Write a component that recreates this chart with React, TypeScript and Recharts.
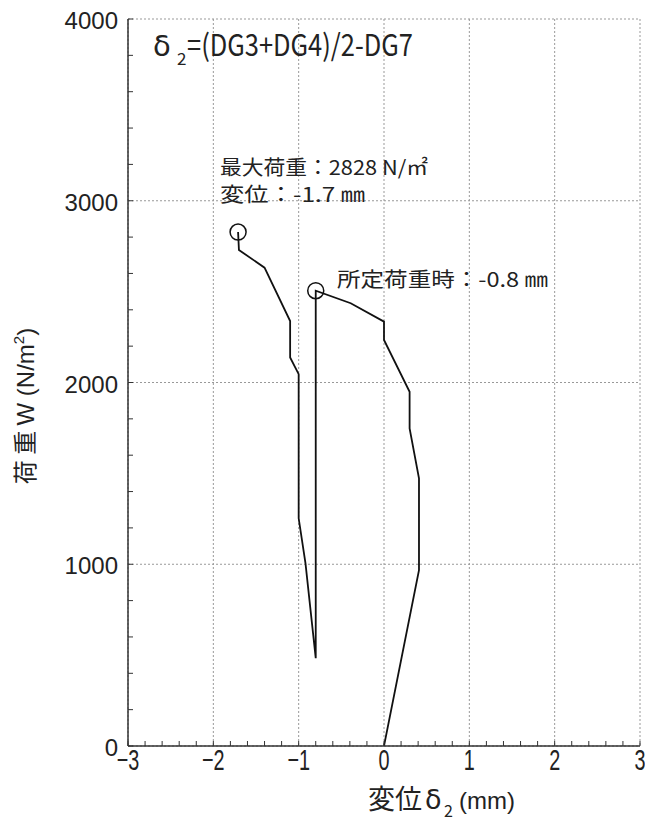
import React from 'react';
import { ComposedChart, Line, XAxis, YAxis, CartesianGrid, ReferenceDot } from 'recharts';

// 変位 δ2 (mm) along the recorded path
const dispX = [0, 0.41, 0.41, 0.30, 0.30, 0, 0, -0.39, -0.80, -0.80, -0.92, -1.00, -1.00, -1.10, -1.10, -1.40, -1.70, -1.71];
// 荷重 W (N/m2)
const loadW = [0, 968, 1473, 1748, 1949, 2234, 2335, 2436, 2505, 483, 1005, 1253, 2046, 2138, 2338, 2632, 2729, 2828];

// open-circle markers (max load, specified load)
const markerX = [-1.71, -0.80];
const markerW = [2828, 2505];

const xMajorTicks = [-3, -2, -1, 0, 1, 2, 3];
const xTickLabels = ['−3', '−2', '−1', '0', '1', '2', '3'];
const xMinorTicks = [-3, -2.8, -2.6, -2.4, -2.2, -2, -1.8, -1.6, -1.4, -1.2, -1, -0.8, -0.6, -0.4, -0.2, 0, 0.2, 0.4, 0.6, 0.8, 1, 1.2, 1.4, 1.6, 1.8, 2, 2.2, 2.4, 2.6, 2.8, 3];
const yMajorTicks = [0, 1000, 2000, 3000, 4000];
const yTickLabels = ['0', '1000', '2000', '3000', '4000'];
const yMinorTicks = [0, 200, 400, 600, 800, 1000, 1200, 1400, 1600, 1800, 2000, 2200, 2400, 2600, 2800, 3000, 3200, 3400, 3600, 3800, 4000];

const data = dispX.map((x, i) => ({ x, y: loadW[i] }));

const FRAME = '#333';
const JP = '"Noto Sans CJK JP", sans-serif';
const LAT = '"Liberation Sans", Arial, sans-serif';
const GRK = '"DejaVu Sans", sans-serif';

const XTick = (props: any) => {
  const { x, y, payload } = props;
  const i = xMajorTicks.indexOf(payload.value);
  if (i < 0) return <g />;
  return (
    <g transform={`translate(${x},${y})`}>
      <text transform="scale(0.66,1)" x={0} y={29} textAnchor="middle" fontSize={30} fontFamily={LAT} fill="#222">
        {xTickLabels[i]}
      </text>
    </g>
  );
};

const YTick = (props: any) => {
  const { x, y, payload } = props;
  const i = yMajorTicks.indexOf(payload.value);
  if (i < 0) return <g />;
  return (
    <text x={x - 15} y={y + 10} textAnchor="end" fontSize={24} fontFamily={LAT} fill="#222">
      {yTickLabels[i]}
    </text>
  );
};

const NoTick = () => <g />;

export default function App() {
  return (
    <div style={{ position: 'absolute', left: 0, top: 0, width: 645, height: 837, background: '#fff' }}>
      <ComposedChart width={645} height={837} data={data} margin={{ top: 19, right: 5, bottom: 51, left: 0 }}>
        <CartesianGrid
          stroke="#999"
          strokeDasharray="2 2"
          strokeWidth={1}
          verticalValues={xMajorTicks}
          horizontalValues={yMajorTicks}
        />
        <XAxis
          dataKey="x"
          type="number"
          domain={[-3, 3]}
          ticks={xMinorTicks}
          interval={0}
          allowDataOverflow
          height={40}
          tickSize={-5}
          tickMargin={0}
          tickLine={{ stroke: FRAME, strokeWidth: 1 }}
          axisLine={{ stroke: FRAME, strokeWidth: 1.5 }}
          tick={<XTick />}
        />
        <XAxis
          xAxisId="top"
          type="number"
          domain={[-3, 3]}
          ticks={xMinorTicks}
          interval={0}
          allowDataOverflow
          orientation="top"
          height={0}
          tickSize={-5}
          tick={<NoTick />}
          axisLine={{ stroke: FRAME, strokeWidth: 1.5 }}
          tickLine={{ stroke: FRAME, strokeWidth: 1 }}
        />
        <YAxis
          dataKey="y"
          type="number"
          domain={[0, 4000]}
          ticks={yMinorTicks}
          interval={0}
          allowDataOverflow
          width={128}
          tickSize={-5}
          tickMargin={0}
          tickLine={{ stroke: FRAME, strokeWidth: 1 }}
          axisLine={{ stroke: FRAME, strokeWidth: 1.5 }}
          tick={<YTick />}
        />
        <YAxis
          yAxisId="right"
          type="number"
          domain={[0, 4000]}
          ticks={yMinorTicks}
          interval={0}
          allowDataOverflow
          orientation="right"
          width={0}
          tickSize={-5}
          tick={<NoTick />}
          axisLine={{ stroke: FRAME, strokeWidth: 1.5 }}
          tickLine={{ stroke: FRAME, strokeWidth: 1 }}
        />
        <Line
          dataKey="y"
          type="linear"
          stroke="#111"
          strokeWidth={1.8}
          dot={false}
          activeDot={false}
          isAnimationActive={false}
        />
        {markerX.map((mx, i) => (
          <ReferenceDot key={i} x={mx} y={markerW[i]} r={8} fill="none" stroke="#111" strokeWidth={1.5} />
        ))}
      </ComposedChart>
      <svg width={645} height={837} style={{ position: 'absolute', left: 0, top: 0, pointerEvents: 'none' }}>
        {/* formula title */}
        <text x={153} y={56} fontSize={29} fontFamily={GRK} fill="#222">δ</text>
        <text x={177} y={65} fontSize={17} fontFamily={JP} fill="#222">2</text>
        <text x={187} y={56} fontSize={30} fontFamily={JP} fill="#222" textLength={226} lengthAdjust="spacingAndGlyphs">=(DG3+DG4)/2-DG7</text>
        {/* annotations */}
        <text x={220} y={175} fontSize={20} fontFamily={JP} fill="#222" textLength={208} lengthAdjust="spacingAndGlyphs">最大荷重：2828 N/㎡</text>
        <text x={220} y={202} fontSize={20} fontFamily={JP} fill="#222" textLength={145} lengthAdjust="spacingAndGlyphs">変位：-1.7 ㎜</text>
        <text x={337} y={287} fontSize={20} fontFamily={JP} fill="#222" textLength={211} lengthAdjust="spacingAndGlyphs">所定荷重時：-0.8 ㎜</text>
        {/* y axis title */}
        <text transform="rotate(-90, 34, 406)" x={34} y={406} textAnchor="middle" fontSize={24} fill="#222">
          <tspan fontFamily={JP}>荷 重 </tspan>
          <tspan fontFamily={LAT}>W (N/m</tspan>
          <tspan fontFamily={LAT} fontSize={15} dy={-10}>2</tspan>
          <tspan fontFamily={LAT} dy={10}>)</tspan>
        </text>
        {/* x axis title */}
        <text x={368} y={809} fontSize={27} fontFamily={JP} fill="#222">変位</text>
        <text x={425} y={809} fontSize={27} fontFamily={GRK} fill="#222">δ</text>
        <text x={444} y={817} fontSize={16} fontFamily={JP} fill="#222">2</text>
        <text x={459} y={809} fontSize={24} fontFamily={LAT} fill="#222">(mm)</text>
      </svg>
    </div>
  );
}
